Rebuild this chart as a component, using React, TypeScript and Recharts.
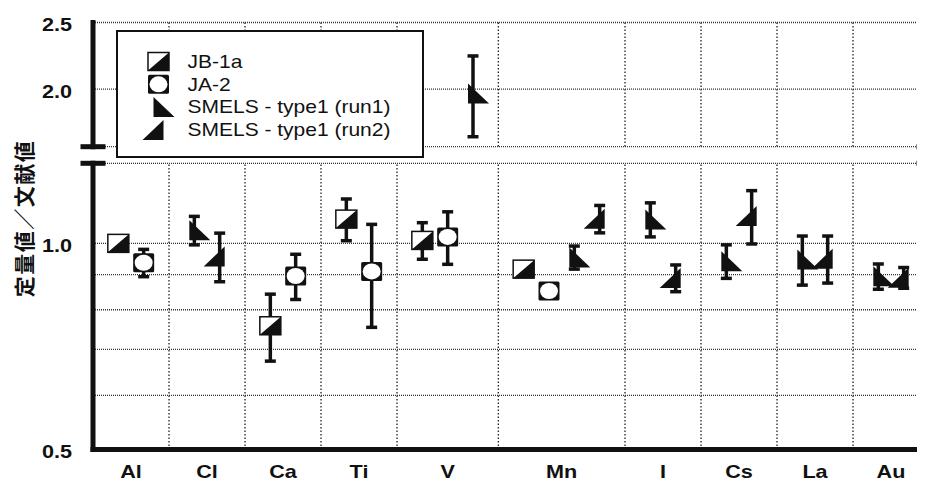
import React from "react";
import {
  ScatterChart,
  Scatter,
  XAxis,
  YAxis,
  CartesianGrid,
  ErrorBar,
  ReferenceLine,
  Legend,
} from "recharts";

const elements = ["Al", "Cl", "Ca", "Ti", "V", "Mn", "I", "Cs", "La", "Au"];

// ratio (measured / literature) and its ± error, null = not measured
const jb1aValue = [1.0, null, 0.758, 1.085, 1.01, 0.917, null, null, null, null];
const jb1aError = [0, null, 0.085, 0.076, 0.062, 0, null, null, null, null];
const ja2Value = [0.937, null, 0.896, 0.91, 1.022, 0.852, null, null, null, null];
const ja2Error = [0.043, null, 0.068, 0.156, 0.09, 0, null, null, null, null];
const run1Value = [null, 1.045, null, null, 1.97, 0.954, 1.084, 0.942, 0.947, 0.895];
const run1Error = [null, 0.05, null, null, 0.265, 0.037, 0.062, 0.053, 0.078, 0.038];
const run2Value = [null, 0.957, null, null, null, 1.086, 0.89, 1.096, 0.95, 0.891];
const run2Error = [null, 0.078, null, null, null, 0.05, 0.04, 0.098, 0.075, 0.031];

const upperTicks = [2.0, 2.5];
const lowerTicks = [0.5, 0.6, 0.7, 0.8, 0.9, 1.0];
const lowerLabels = [0.5, 1.0];
const upperDomain = [1.649, 2.5];
const lowerDomain = [0.5, 1.309];

const INK = "#111";
const FONT = "'Liberation Sans', Arial, sans-serif";

const HalfSquare = ({ cx, cy }: any) => (
  <g>
    <rect x={cx - 10.5} y={cy - 9} width={21} height={18} fill="#fff" stroke={INK} strokeWidth={1.5} />
    <path d={`M${cx - 10.5},${cy + 9}L${cx + 10.5},${cy - 9}L${cx + 10.5},${cy + 9}Z`} fill={INK} />
  </g>
);

const Ring = ({ cx, cy }: any) => (
  <g>
    <rect x={cx - 10.5} y={cy - 9.5} width={21} height={19} rx={1.5} fill={INK} />
    <ellipse cx={cx} cy={cy} rx={9} ry={8} fill="#fff" />
  </g>
);

const TriLeft = ({ cx, cy }: any) => (
  <path d={`M${cx - 5},${cy - 10}L${cx - 5},${cy + 10}L${cx + 16},${cy + 10}Z`} fill={INK} />
);

const TriRight = ({ cx, cy }: any) => (
  <path d={`M${cx + 5},${cy - 10}L${cx + 5},${cy + 10}L${cx - 16},${cy + 10}Z`} fill={INK} />
);

const seriesList = [
  { key: "jb1a", name: "JB-1a", values: jb1aValue, errors: jb1aError, shape: HalfSquare },
  { key: "ja2", name: "JA-2", values: ja2Value, errors: ja2Error, shape: Ring },
  { key: "run1", name: "SMELS - type1 (run1)", values: run1Value, errors: run1Error, shape: TriLeft },
  { key: "run2", name: "SMELS - type1 (run2)", values: run2Value, errors: run2Error, shape: TriRight },
];

// each element gets one slot per measured sample plus one spacer slot
let cursor = 0;
const groups = elements.map((el, i) => {
  const members = seriesList.filter((s) => s.values[i] != null).map((s) => s.key);
  const start = cursor;
  cursor += members.length + 1;
  return { el, start, members, center: start + (members.length + 1) / 2 };
});
const totalSlots = cursor;
const boundaries = groups.slice(1).map((g) => g.start);
const centers = groups.map((g) => g.center);

const pointsOf = (s: (typeof seriesList)[number]) =>
  elements
    .map((_, i) => ({
      x: groups[i].start + 1 + groups[i].members.indexOf(s.key),
      y: s.values[i] as number,
      err: s.errors[i] as number,
    }))
    .filter((p) => p.y != null);

const frameLine = { stroke: INK, strokeWidth: 5, strokeLinecap: "square" as const };

const renderYTick = (labels: number[]) => (props: any) => {
  const { x, y, payload } = props;
  if (!labels.includes(payload.value)) return <g />;
  return (
    <g transform={`translate(${x},${y})`}>
      <text
        transform="scale(1.2,1)"
        textAnchor="end"
        dy={8.5}
        fontSize={18}
        fontWeight="bold"
        fill={INK}
        fontFamily={FONT}
      >
        {payload.value.toFixed(1)}
      </text>
    </g>
  );
};

const renderXTick = (props: any) => {
  const { x, y, index } = props;
  return (
    <g transform={`translate(${x},${y})`}>
      <text
        transform="scale(1.2,1)"
        textAnchor="middle"
        dy={28.5}
        fontSize={18}
        fontWeight="bold"
        fill={INK}
        fontFamily={FONT}
      >
        {elements[index]}
      </text>
    </g>
  );
};

const LegendBox = () => (
  <div
    style={{
      width: 308,
      height: 127.5,
      boxSizing: "border-box",
      border: `2.5px solid ${INK}`,
      background: "#fff",
    }}
  >
    <svg width={303} height={122.5} style={{ display: "block" }}>
      {seriesList.map((s, i) => {
        const cy = 29.5 + i * 22.8;
        const Shape = s.shape;
        return (
          <g key={s.key}>
            <Shape cx={40.5} cy={cy} />
            <g transform={`translate(69.5,${cy})`}>
              <text transform="scale(1.2,1)" dy={6.3} fontSize={17.5} fill={INK} fontFamily={FONT}>
                {s.name}
              </text>
            </g>
          </g>
        );
      })}
    </svg>
  </div>
);

const gridLines = (
  <>
    <CartesianGrid vertical={false} stroke="#333" strokeDasharray="1 1" strokeWidth={1.3} />
    {boundaries.map((b) => (
      <ReferenceLine key={b} x={b} stroke="#222" strokeDasharray="1.5 2" strokeWidth={1.3} />
    ))}
  </>
);

const renderSeries = (inRange: (v: number) => boolean) =>
  seriesList.map((s) => (
    <Scatter
      key={s.key}
      name={s.name}
      data={pointsOf(s).filter((p) => inRange(p.y))}
      shape={s.shape}
      isAnimationActive={false}
    >
      <ErrorBar
        dataKey="err"
        direction="y"
        width={5.5}
        strokeWidth={3.5}
        stroke={INK}
        isAnimationActive={false}
      />
    </Scatter>
  ));

const CHART_W = 921;
const TOP_H = 147;
const BOTTOM_H = 327;
const AXIS_W = 85;

export default function App() {
  return (
    <div style={{ position: "relative", width: 917, height: 474, overflow: "hidden" }}>
      <ScatterChart width={CHART_W} height={TOP_H} margin={{ top: 14.5, right: 0, bottom: 8.3, left: 0 }}>
        <XAxis
          type="number"
          dataKey="x"
          domain={[0, totalSlots]}
          orientation="top"
          height={0}
          tick={false}
          tickLine={false}
          axisLine={frameLine}
          allowDataOverflow
        />
        <YAxis
          type="number"
          dataKey="y"
          scale="log"
          domain={upperDomain}
          ticks={upperTicks}
          interval={0}
          allowDataOverflow
          width={AXIS_W}
          tickLine={false}
          tickSize={0}
          tickMargin={21}
          tick={renderYTick(upperTicks)}
          axisLine={frameLine}
        />
        {gridLines}
        {renderSeries((v) => v >= upperDomain[0])}
        <Legend
          layout="horizontal"
          verticalAlign="middle"
          align="center"
          content={() => <LegendBox />}
          wrapperStyle={{ position: "absolute", left: 108, top: 22, width: 308, height: 127.5, zIndex: 10 }}
        />
      </ScatterChart>
      <ScatterChart width={CHART_W} height={BOTTOM_H} margin={{ top: 8.3, right: 0, bottom: 0, left: 0 }}>
        <XAxis
          type="number"
          dataKey="x"
          domain={[0, totalSlots]}
          ticks={centers}
          interval={0}
          height={32.5}
          tickLine={false}
          tickSize={0}
          tickMargin={0}
          tick={renderXTick}
          axisLine={frameLine}
          allowDataOverflow
        />
        <YAxis
          type="number"
          dataKey="y"
          scale="log"
          domain={lowerDomain}
          ticks={lowerTicks}
          interval={0}
          allowDataOverflow
          width={AXIS_W}
          tickLine={false}
          tickSize={0}
          tickMargin={21}
          tick={renderYTick(lowerLabels)}
          axisLine={frameLine}
        />
        {gridLines}
        {renderSeries((v) => v <= lowerDomain[1])}
      </ScatterChart>
      <svg
        width={917}
        height={474}
        style={{ position: "absolute", left: 0, top: 0, pointerEvents: "none", zIndex: 5 }}
      >
        <text
          transform="translate(15,210.5) rotate(-90)"
          textAnchor="middle"
          dominantBaseline="central"
          fontSize={21}
          letterSpacing={1.5}
          fontWeight="bold"
          fill={INK}
          fontFamily="'Noto Sans CJK JP', sans-serif"
        >
          定量値／文献値
        </text>
        {[AXIS_W, CHART_W].map((ax) =>
          [TOP_H - 8.3, TOP_H + 8.3].map((y) => (
            <line key={`${ax}-${y}`} x1={ax - 12.5} x2={ax + 12.5} y1={y} y2={y} stroke={INK} strokeWidth={5} />
          ))
        )}
      </svg>
    </div>
  );
}
